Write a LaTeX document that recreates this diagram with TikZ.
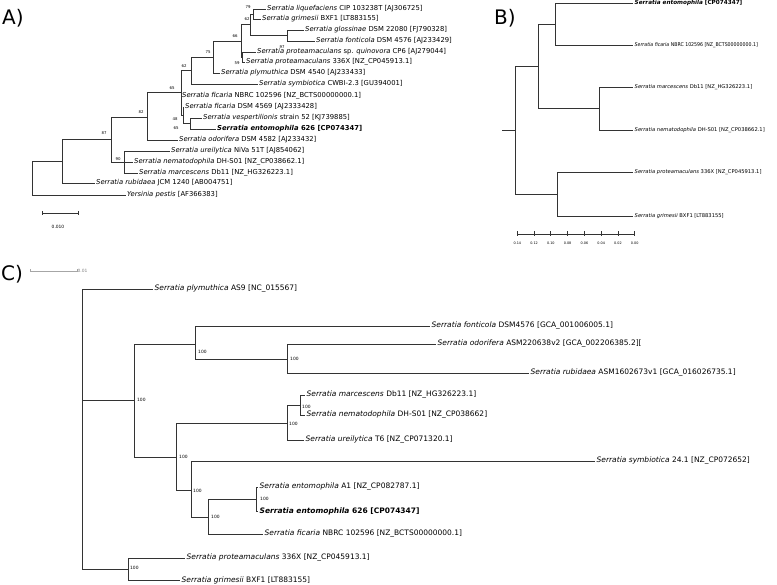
\documentclass[tikz,border=0pt]{standalone}
\usepackage{fontspec}
\setmainfont{DejaVu Sans}

\tikzset{
  branch/.style={draw=black!80, line width=0.7pt},
  tipA/.style={anchor=west, inner sep=1pt, font=\fontsize{6.8}{7}\selectfont},
  tipB/.style={anchor=west, inner sep=1.5pt, font=\fontsize{5.2}{6}\selectfont},
  tipC/.style={anchor=west, inner sep=1.5pt, font=\fontsize{7.5}{8}\selectfont},
  bootA/.style={inner sep=0pt, font=\fontsize{3.9}{4}\selectfont},
  bootC/.style={anchor=west, inner sep=0pt, font=\fontsize{4.4}{4}\selectfont},
  tickB/.style={inner sep=0pt, font=\fontsize{3.4}{4}\selectfont},
  panel/.style={anchor=north west, inner sep=0pt, font=\fontsize{20}{20}\selectfont},
}
\newcommand{\sn}[1]{\textit{Serratia #1}}

\begin{document}
\begin{tikzpicture}[x=1pt, y=-1pt]
  \useasboundingbox (0,0) rectangle (777,585);

  % ---------- A) ----------
  \node[panel] (pA) at (2,9) {A)};
  \coordinate (aR) at (32,178);
  \coordinate (aN1) at (62,161);
  \coordinate (a87) at (111,139.5);
  \coordinate (a90) at (124,162);
  \coordinate (a82) at (147,117);
  \coordinate (a65) at (181,92.75);
  \coordinate (a48) at (183,115.25);
  \coordinate (a65b) at (190,123.5);
  \coordinate (a62) at (191,70.5);
  \coordinate (a75) at (213,57);
  \coordinate (a66) at (241,41);
  \coordinate (a59) at (242,57);
  \coordinate (a62c) at (250,24.75);
  \coordinate (a79) at (253,14);
  \coordinate (a97) at (287,35.5);

  \node[tipA] (liq) at (266,9) {\sn{liquefaciens} CIP 103238T [AJ306725]};
  \node[tipA] (griA) at (261,19) {\sn{grimesii} BXF1 [LT883155]};
  \node[tipA] (glo) at (304,30) {\sn{glossinae} DSM 22080 [FJ790328]};
  \node[tipA] (fonA) at (315,41) {\sn{fonticola} DSM 4576 [AJ233429]};
  \node[tipA] (quin) at (256,52) {\sn{proteamaculans} sp. \textit{quinovora} CP6 [AJ279044]};
  \node[tipA] (protA) at (245,62) {\sn{proteamaculans} 336X [NZ\_CP045913.1]};
  \node[tipA] (plyA) at (220,73) {\sn{plymuthica} DSM 4540 [AJ233433]};
  \node[tipA] (symA) at (258,84) {\sn{symbiotica} CWBI-2.3 [GU394001]};
  \node[tipA] (ficN) at (181,96) {\sn{ficaria} NBRC 102596 [NZ\_BCTS00000000.1]};
  \node[tipA] (ficD) at (184,107) {\sn{ficaria} DSM 4569 [AJ2333428]};
  \node[tipA] (vesp) at (202,118) {\sn{vespertilionis} strain 52 [KJ739885]};
  \node[tipA] (entoA) at (216,129) {\bfseries\sn{entomophila} 626 [CP074347]};
  \node[tipA] (odoA) at (178,140) {\sn{odorifera} DSM 4582 [AJ233432]};
  \node[tipA] (ureA) at (170,151) {\sn{ureilytica} NiVa 51T [AJ854062]};
  \node[tipA] (nemA) at (133,162) {\sn{nematodophila} DH-S01 [NZ\_CP038662.1]};
  \node[tipA] (marA) at (138,173) {\sn{marcescens} Db11 [NZ\_HG326223.1]};
  \node[tipA] (rubA) at (95,183) {\sn{rubidaea} JCM 1240 [AB004751]};
  \node[tipA] (yer) at (126,195) {\textit{Yersinia pestis} [AF366383]};

  \draw[branch] (aR) |- (aN1) (aR) |- (yer.west);
  \draw[branch] (aN1) |- (a87) (aN1) |- (rubA.west);
  \draw[branch] (a87) |- (a82) (a87) |- (a90);
  \draw[branch] (a90) |- (ureA.west) (a90) |- (nemA.west) (a90) |- (marA.west);
  \draw[branch] (a82) |- (a65) (a82) |- (odoA.west);
  \draw[branch] (a65) |- (a62) (a65) |- (ficN.west) (a65) |- (a48);
  \draw[branch] (a48) |- (ficD.west) (a48) |- (a65b);
  \draw[branch] (a65b) |- (vesp.west) (a65b) |- (entoA.west);
  \draw[branch] (a62) |- (a75) (a62) |- (symA.west);
  \draw[branch] (a75) |- (a66) (a75) |- (plyA.west);
  \draw[branch] (a66) |- (a62c) (a66) |- (a59);
  \draw[branch] (a59) |- (quin.west) (a59) |- (protA.west);
  \draw[branch] (a62c) |- (a79) (a62c) |- (a97);
  \draw[branch] (a79) |- (liq.west) (a79) |- (griA.west);
  \draw[branch] (a97) |- (glo.west) (a97) |- (fonA.west);

  \node[bootA] (b79) at (248,7) {79};
  \node[bootA] (b62c) at (247,19) {62};
  \node[bootA] (b66) at (235,36) {66};
  \node[bootA] (b97) at (282,47) {97};
  \node[bootA] (b75) at (208,52) {75};
  \node[bootA] (b59) at (237,63) {59};
  \node[bootA] (b62) at (184,66) {62};
  \node[bootA] (b65) at (172,88) {65};
  \node[bootA] (b82) at (141,112) {82};
  \node[bootA] (b48) at (175,119) {48};
  \node[bootA] (b65b) at (176,128) {65};
  \node[bootA] (b87) at (104,133) {87};
  \node[bootA] (b90) at (118,159) {90};

  % scale bar
  \coordinate (sA1) at (42,213);
  \coordinate (sA2) at (78,213);
  \draw[branch] (sA1) -- (sA2);
  \draw[branch] (sA1) ++(0,-2) -- ++(0,4) (sA2) ++(0,-2) -- ++(0,4);
  \node[bootA, font=\fontsize{4.4}{5}\selectfont] (sAl) at (58,227) {0.010};

  % ---------- B) ----------
  \node[panel] (pB) at (494,9) {B)};
  \coordinate (bRoot) at (502,130);
  \coordinate (bN1) at (515,130);
  \coordinate (bN2) at (538,66);
  \coordinate (bN3) at (555,24);
  \coordinate (bN5) at (599,108.5);
  \coordinate (bN4) at (557,194);

  \node[tipB, font=\fontsize{5.7}{6}\selectfont] (entoB) at (633,3) {\bfseries\sn{entomophila} [CP074347]};
  \node[tipB] (ficB) at (633,45) {\scalebox{0.9}[1]{\sn{ficaria} NBRC 102596 [NZ\_BCTS00000000.1]}};
  \node[tipB] (marB) at (633,87) {\sn{marcescens} Db11 [NZ\_HG326223.1]};
  \node[tipB] (nemB) at (633,130) {\sn{nematodophila} DH-S01 [NZ\_CP038662.1]};
  \node[tipB] (protB) at (633,172) {\sn{proteamaculans} 336X [NZ\_CP045913.1]};
  \node[tipB] (griB) at (633,216) {\sn{grimesii} BXF1 [LT883155]};

  \draw[branch] (bRoot) -- (bN1);
  \draw[branch] (bN1) |- (bN2) (bN1) |- (bN4);
  \draw[branch] (bN2) |- (bN3) (bN2) |- (bN5);
  \draw[branch] (bN3) |- (entoB.west) (bN3) |- (ficB.west);
  \draw[branch] (bN5) |- (marB.west) (bN5) |- (nemB.west);
  \draw[branch] (bN4) |- (protB.west) (bN4) |- (griB.west);

  % axis
  \coordinate (axL) at (517.3,234);
  \coordinate (axR) at (634.7,234);
  \draw[branch] (axL) -- (axR);
  \foreach \lab [count=\i from 0] in {0.14,0.12,0.10,0.08,0.06,0.04,0.02,0.00}{
    \draw[branch] ({517.3+\i*16.77},231.5) -- ++(0,5);
    \node[tickB] (tk\i) at ({517.3+\i*16.77},243) {\lab};
  }

  % ---------- C) ----------
  \node[panel] (pC) at (1,265) {C)};
  \coordinate (sC1) at (30,271);
  \coordinate (sC2) at (77,271);
  \draw[gray!70, line width=0.6pt] (sC1) -- (sC2);
  \draw[gray!70, line width=0.5pt] (sC1) ++(0,-1.5) -- ++(0,3) (sC2) ++(0,-1.5) -- ++(0,3);
  \node[bootC, text=gray] (sCl) at (77.5,271) {0.01};

  \coordinate (cR) at (82,400);
  \coordinate (cN1) at (134,400);
  \coordinate (cN2) at (195,344);
  \coordinate (cN3) at (287,359);
  \coordinate (cN4) at (176,457);
  \coordinate (cN6) at (287,423);
  \coordinate (cN10) at (300,405);
  \coordinate (cN7) at (191,490);
  \coordinate (cN8) at (208,517);
  \coordinate (cN9) at (256,499);
  \coordinate (cN5) at (128,569);

  \node[tipC] (plyC) at (153,289) {\sn{plymuthica} AS9 [NC\_015567]};
  \node[tipC] (fonC) at (430,326) {\sn{fonticola} DSM4576 [GCA\_001006005.1]};
  \node[tipC] (odoC) at (436,344) {\sn{odorifera} ASM220638v2 [GCA\_002206385.2][};
  \node[tipC] (rubC) at (529,373) {\sn{rubidaea} ASM1602673v1 [GCA\_016026735.1]};
  \node[tipC] (marC) at (305,395) {\sn{marcescens} Db11 [NZ\_HG326223.1]};
  \node[tipC] (nemC) at (305,415) {\sn{nematodophila} DH-S01 [NZ\_CP038662]};
  \node[tipC] (ureC) at (304,440) {\sn{ureilytica} T6 [NZ\_CP071320.1]};
  \node[tipC] (symC) at (595,461) {\sn{symbiotica} 24.1 [NZ\_CP072652]};
  \node[tipC] (a1C) at (258,487) {\sn{entomophila} A1 [NZ\_CP082787.1]};
  \node[tipC] (e626C) at (258,511) {\bfseries\sn{entomophila} 626 [CP074347]};
  \node[tipC] (ficC) at (263,534) {\sn{ficaria} NBRC 102596 [NZ\_BCTS00000000.1]};
  \node[tipC] (protC) at (185,558) {\sn{proteamaculans} 336X [NZ\_CP045913.1]};
  \node[tipC] (griC) at (180,580) {\sn{grimesii} BXF1 [LT883155]};

  \draw[branch] (cR) |- (plyC.west) (cR) -- (cN1) (cR) |- (cN5);
  \draw[branch] (cN1) |- (cN2) (cN1) |- (cN4);
  \draw[branch] (cN2) |- (fonC.west) (cN2) |- (cN3);
  \draw[branch] (cN3) |- (odoC.west) (cN3) |- (rubC.west);
  \draw[branch] (cN4) |- (cN6) (cN4) |- (cN7);
  \draw[branch] (cN6) |- (cN10) (cN6) |- (ureC.west);
  \draw[branch] (cN10) |- (marC.west) (cN10) |- (nemC.west);
  \draw[branch] (cN7) |- (symC.west) (cN7) |- (cN8);
  \draw[branch] (cN8) |- (cN9) (cN8) |- (ficC.west);
  \draw[branch] (cN9) |- (a1C.west) (cN9) |- (e626C.west);
  \draw[branch] (cN5) |- (protC.west) (cN5) |- (griC.west);

  \node[bootC] (v1) at (137,400) {100};
  \node[bootC] (v2) at (198,352) {100};
  \node[bootC] (v3) at (290,359) {100};
  \node[bootC] (v4) at (179,457) {100};
  \node[bootC] (v6) at (289,424) {100};
  \node[bootC] (v10) at (302,407) {100};
  \node[bootC] (v7) at (193,491) {100};
  \node[bootC] (v8) at (211,517) {100};
  \node[bootC] (v9) at (260,499) {100};
  \node[bootC] (v5) at (130,568) {100};
\end{tikzpicture}
\end{document}
